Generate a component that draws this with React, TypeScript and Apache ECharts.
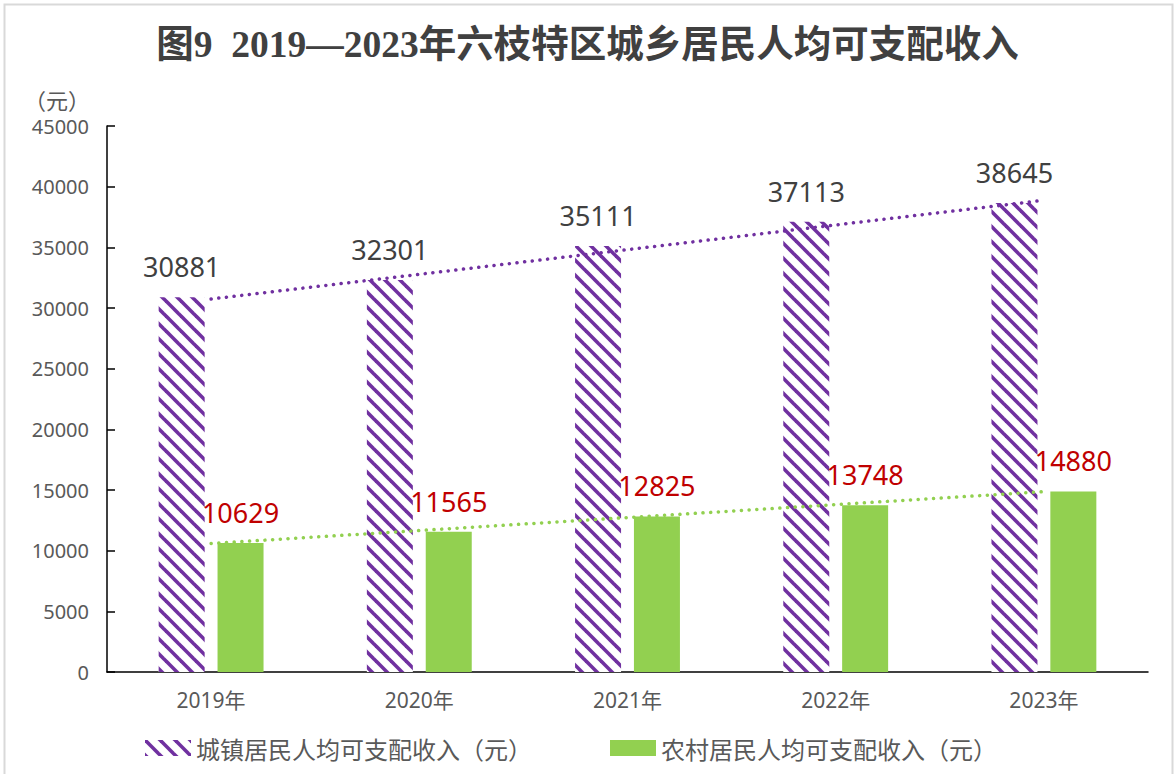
import React, { useEffect, useRef } from "react";
import * as echarts from "echarts";

const titleText = "图9  2019—2023年六枝特区城乡居民人均可支配收入";
const unitText = "（元）";
const categories = ["2019年", "2020年", "2021年", "2022年", "2023年"];
const urbanName = "城镇居民人均可支配收入（元）";
const ruralName = "农村居民人均可支配收入（元）";
const urbanIncome = [30881, 32301, 35111, 37113, 38645];
const ruralIncome = [10629, 11565, 12825, 13748, 14880];
// linear trend line end values at the first and last category
const urbanTrend = [30742, 38878];
const ruralTrend = [10592, 14866];
const yMin = 0;
const yMax = 45000;
const yInterval = 5000;

const PURPLE = "#7030a0";
const GREEN = "#92d050";
const RED = "#c00000";
const GREY = "#595959";

function makeStripePattern() {
  const p = 15;
  const c = document.createElement("canvas");
  c.width = p;
  c.height = p;
  const ctx = c.getContext("2d")!;
  ctx.fillStyle = "#ffffff";
  ctx.fillRect(0, 0, p, p);
  ctx.strokeStyle = PURPLE;
  ctx.lineWidth = 3.6;
  for (const k of [-p, 0, p]) {
    ctx.beginPath();
    ctx.moveTo(k - 2, -2);
    ctx.lineTo(k + p + 2, p + 2);
    ctx.stroke();
  }
  return { image: c, repeat: "repeat", imageWidth: p, imageHeight: p } as any;
}

export default function App() {
  const ref = useRef<HTMLDivElement>(null);
  useEffect(() => {
    if (!ref.current) return;
    const chart = echarts.init(ref.current, undefined, { renderer: "svg" });
    const stripes = makeStripePattern();
    const sans = '"Noto Sans", "Noto Sans CJK SC", sans-serif';
    const cjk = '"Noto Sans CJK SC", sans-serif';
    chart.setOption({
      animation: false,
      backgroundColor: "#ffffff",
      title: {
        text: titleText,
        left: "center",
        top: 21,
        textStyle: {
          fontFamily: '"Liberation Serif", "Noto Sans CJK SC", serif',
          fontWeight: "bold",
          fontSize: 37.5,
          color: "#404040",
        },
      },
      graphic: [
        {
          type: "rect",
          shape: { x: 4.5, y: 4.5, width: 1168, height: 790 },
          style: { fill: "none", stroke: "#d9d9d9", lineWidth: 2 },
          silent: true,
        },
        {
          type: "text",
          left: 24,
          top: 88,
          style: { text: unitText, fontSize: 22, fontFamily: cjk, fill: GREY },
        },
      ],
      legend: {
        data: [urbanName, ruralName],
        left: 140,
        top: 731,
        itemWidth: 46,
        itemHeight: 16,
        itemGap: 78,
        icon: "rect",
        textStyle: { fontSize: 24, fontFamily: cjk, color: GREY },
      },
      grid: { left: 107, right: 27, top: 126, bottom: 102, containLabel: false },
      xAxis: {
        type: "category",
        data: categories,
        axisLine: { lineStyle: { color: "#000000", width: 1.5 } },
        axisTick: { inside: true, length: 8, lineStyle: { color: "#000000", width: 1.5 } },
        axisLabel: { fontSize: 21, fontFamily: sans, color: GREY, margin: 17 },
      },
      yAxis: {
        type: "value",
        min: yMin,
        max: yMax,
        interval: yInterval,
        splitLine: { show: false },
        axisLine: { show: true, lineStyle: { color: "#000000", width: 1.5 } },
        axisTick: { show: true, inside: true, length: 8, lineStyle: { color: "#000000", width: 1.5 } },
        axisLabel: {
          fontSize: 20,
          fontFamily: sans,
          color: GREY,
          margin: 18,
          formatter: (v: number) => String(v),
        },
      },
      series: [
        {
          name: urbanName,
          type: "bar",
          data: urbanIncome,
          barWidth: 46,
          barGap: "28%",
          itemStyle: { color: stripes },
          label: {
            show: true,
            position: "top",
            distance: 17,
            fontSize: 27,
            fontFamily: sans,
            color: "#404040",
          },
        },
        {
          name: ruralName,
          type: "bar",
          data: ruralIncome,
          barWidth: 46,
          itemStyle: { color: GREEN },
          label: {
            show: true,
            position: "top",
            distance: 17,
            fontSize: 27,
            fontFamily: sans,
            color: RED,
          },
        },
        {
          name: "urbanTrend",
          type: "line",
          data: [
            [0, urbanTrend[0]],
            [categories.length - 1, urbanTrend[1]],
          ],
          symbol: "none",
          silent: true,
          z: 5,
          lineStyle: { color: PURPLE, width: 3.5, type: [0.1, 7.6], cap: "round" },
        },
        {
          name: "ruralTrend",
          type: "line",
          data: [
            [0, ruralTrend[0]],
            [categories.length - 1, ruralTrend[1]],
          ],
          symbol: "none",
          silent: true,
          z: 5,
          lineStyle: { color: GREEN, width: 3.5, type: [0.1, 7.6], cap: "round" },
        },
      ],
    });
    return () => chart.dispose();
  }, []);
  return (
    <div
      ref={ref}
      style={{ position: "absolute", left: 0, top: 0, width: 1175, height: 774 }}
    />
  );
}
